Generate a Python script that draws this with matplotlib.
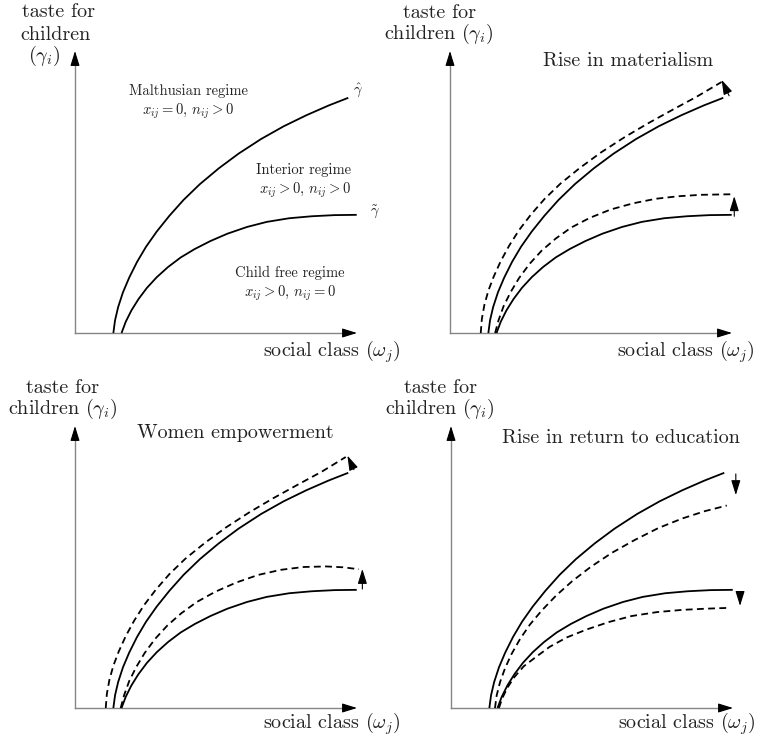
import matplotlib
matplotlib.use('Agg')
import matplotlib.pyplot as plt

plt.rcParams['font.family'] = 'cmr10'
plt.rcParams['mathtext.fontset'] = 'cm'
plt.rcParams['axes.unicode_minus'] = False

# frontier curves (social class -> taste for children)
# gamma hat (upper frontier), gamma tilde (lower frontier)
hat_w = [1.36, 1.42, 1.53, 1.70, 1.92, 2.20, 2.52, 2.90, 3.35, 3.85, 4.43, 5.10, 5.80, 6.60, 7.40, 8.20, 9.00, 9.69]
hat_g = [0.00, 0.45, 0.92, 1.44, 1.96, 2.52, 3.06, 3.60, 4.16, 4.72, 5.28, 5.84, 6.36, 6.88, 7.33, 7.72, 8.07, 8.34]
til_w = [1.65, 1.80, 2.00, 2.25, 2.55, 2.90, 3.30, 3.75, 4.25, 4.80, 5.40, 6.10, 6.80, 7.60, 8.40, 9.20, 9.99]
til_g = [0.00, 0.40, 0.80, 1.20, 1.60, 1.98, 2.34, 2.68, 2.98, 3.26, 3.52, 3.76, 3.94, 4.07, 4.14, 4.18, 4.19]

# shifted frontiers (dashed)
mat_hat_w = [1.09, 1.13, 1.22, 1.36, 1.55, 1.80, 2.10, 2.45, 2.87, 3.35, 3.92, 4.60, 5.35, 6.20, 7.05, 7.90, 8.75, 9.63]
mat_hat_g = [0.00, 0.50, 1.00, 1.50, 2.00, 2.55, 3.10, 3.65, 4.20, 4.75, 5.30, 5.85, 6.40, 6.95, 7.45, 7.92, 8.38, 8.90]
mat_til_w = [1.60, 1.72, 1.90, 2.15, 2.45, 2.82, 3.25, 3.75, 4.30, 4.95, 5.70, 6.50, 7.30, 8.10, 8.90, 9.99]
mat_til_g = [0.00, 0.45, 0.95, 1.45, 1.95, 2.45, 2.92, 3.35, 3.74, 4.08, 4.38, 4.60, 4.76, 4.85, 4.90, 4.92]

wom_hat_w = [1.09, 1.13, 1.22, 1.36, 1.55, 1.80, 2.10, 2.45, 2.87, 3.35, 3.92, 4.60, 5.35, 6.20, 7.05, 7.90, 8.75, 9.60]
wom_hat_g = [0.00, 0.50, 1.00, 1.50, 2.00, 2.55, 3.10, 3.65, 4.20, 4.75, 5.30, 5.85, 6.40, 6.95, 7.45, 7.92, 8.38, 8.90]
wom_til_w = [1.62, 1.74, 1.92, 2.17, 2.47, 2.84, 3.27, 3.77, 4.32, 4.97, 5.72, 6.50, 7.30, 8.10, 8.90, 9.50, 10.07]
wom_til_g = [0.00, 0.45, 0.95, 1.45, 1.95, 2.45, 2.92, 3.36, 3.76, 4.12, 4.45, 4.72, 4.90, 5.00, 5.02, 4.99, 4.92]

edu_hat_w = [1.56, 1.62, 1.74, 1.92, 2.15, 2.45, 2.80, 3.22, 3.72, 4.30, 4.95, 5.70, 6.50, 7.35, 8.20, 9.00, 9.78]
edu_hat_g = [0.00, 0.45, 0.92, 1.42, 1.92, 2.45, 2.96, 3.46, 3.98, 4.50, 5.00, 5.50, 5.95, 6.38, 6.72, 6.98, 7.18]
edu_til_w = [1.70, 1.82, 2.00, 2.25, 2.58, 3.00, 3.50, 4.10, 4.80, 5.60, 6.40, 7.30, 8.20, 9.00, 9.83]
edu_til_g = [0.00, 0.35, 0.72, 1.10, 1.48, 1.80, 2.17, 2.50, 2.78, 3.05, 3.26, 3.40, 3.48, 3.52, 3.55]

# shift arrows: (tail, tip) per panel
mat_arrows = [((9.90, 8.41), (9.63, 8.98)), ((10.08, 4.14), (10.08, 4.85))]
wom_arrows = [((9.89, 8.45), (9.66, 8.95)), ((10.19, 4.22), (10.19, 4.93))]
edu_arrows = [((10.10, 8.30), (10.10, 7.55)), ((10.25, 4.00), (10.25, 3.62))]

titles = ['', 'Rise in materialism', 'Women empowerment', 'Rise in return to education']

ink = '#222222'
axis_col = '#858585'
big = 14.5
small = 10.5
head = '-|>,head_length=0.45,head_width=0.14'

fig = plt.figure(figsize=(7.6, 7.4), dpi=100)


def arrow(ax, tail, tip):
    ax.annotate('', xy=tip, xytext=tail, annotation_clip=False,
                arrowprops=dict(arrowstyle=head, mutation_scale=20, color='black',
                                lw=0.8, shrinkA=0, shrinkB=0))


def panel(ox, oy):
    ax = fig.add_axes([ox / 760, (740 - oy) / 740, 282 / 760, 282 / 740])
    ax.set_xlim(0, 10)
    ax.set_ylim(0, 10)
    ax.axis('off')
    # axes with arrow heads
    ax.plot([0, 9.7], [0, 0], color=axis_col, lw=1.0, clip_on=False)
    ax.plot([0, 0], [0, 9.7], color=axis_col, lw=1.0, clip_on=False)
    arrow(ax, (9.5, 0), (10, 0))
    arrow(ax, (0, 9.5), (0, 10))
    return ax


def curve(ax, w, g, dashed=False):
    ls = (0, (3.8, 2.4)) if dashed else '-'
    ax.plot(w, g, color='black', lw=1.3, ls=ls, clip_on=False,
            solid_capstyle='butt', dash_capstyle='butt', solid_joinstyle='round')


def xlabel(ax, x0, y0):
    ax.text(x0, y0, r'social class $(\omega_j)$', fontsize=big, color=ink,
            ha='left', va='center')


# panel 1: regimes
ax1 = panel(75, 333)
curve(ax1, hat_w, hat_g)
curve(ax1, til_w, til_g)
ax1.text(-0.58, 11.39, 'taste for', fontsize=big, color=ink, ha='center', va='center')
ax1.text(-0.68, 10.57, 'children', fontsize=big, color=ink, ha='center', va='center')
ax1.text(-1.10, 9.82, r'$(\gamma_i)$', fontsize=big, color=ink, ha='center', va='center')
xlabel(ax1, 6.67, -0.68)
ax1.text(4.04, 8.58, 'Malthusian regime', fontsize=small, color=ink, ha='center', va='center')
ax1.text(4.00, 7.86, r'$x_{ij}=0,\,n_{ij}>0$', fontsize=small, color=ink, ha='center', va='center')
ax1.text(8.12, 5.77, 'Interior regime', fontsize=small, color=ink, ha='center', va='center')
ax1.text(8.16, 5.05, r'$x_{ij}>0,\,n_{ij}>0$', fontsize=small, color=ink, ha='center', va='center')
ax1.text(7.62, 2.14, 'Child free regime', fontsize=small, color=ink, ha='center', va='center')
ax1.text(7.62, 1.42, r'$x_{ij}>0,\,n_{ij}=0$', fontsize=small, color=ink, ha='center', va='center')
ax1.text(10.04, 8.60, r'$\hat{\gamma}$', fontsize=small, color=ink, ha='center', va='center')
ax1.text(10.64, 4.31, r'$\tilde{\gamma}$', fontsize=small, color=ink, ha='center', va='center')

# panels 2-4: shifts of the frontiers
specs = [
    ((450, 333), titles[1], (6.32, 9.64), mat_hat_w, mat_hat_g, mat_til_w, mat_til_g, mat_arrows, 5.92, -0.68, -0.39),
    ((75, 708), titles[2], (5.67, 9.75), wom_hat_w, wom_hat_g, wom_til_w, wom_til_g, wom_arrows, 6.67, -0.55, -0.44),
    ((451, 708), titles[3], (6.03, 9.57), edu_hat_w, edu_hat_g, edu_til_w, edu_til_g, edu_arrows, 5.92, -0.55, -0.39),
]
for (ox, oy), title, tpos, hw, hg, tw, tg, arrows, lx, ly, yx in specs:
    ax = panel(ox, oy)
    curve(ax, hat_w, hat_g)
    curve(ax, til_w, til_g)
    curve(ax, hw, hg, dashed=True)
    curve(ax, tw, tg, dashed=True)
    for tail, tip in arrows:
        arrow(ax, tail, tip)
    ax.text(tpos[0], tpos[1], title, fontsize=big, color=ink, ha='center', va='center')
    ax.text(yx, 11.35, 'taste for', fontsize=big, color=ink, ha='center', va='center')
    ax.text(yx, 10.60, r'children $(\gamma_i)$', fontsize=big, color=ink, ha='center', va='center')
    xlabel(ax, lx, ly)

fig.savefig('out.png', dpi=100)
